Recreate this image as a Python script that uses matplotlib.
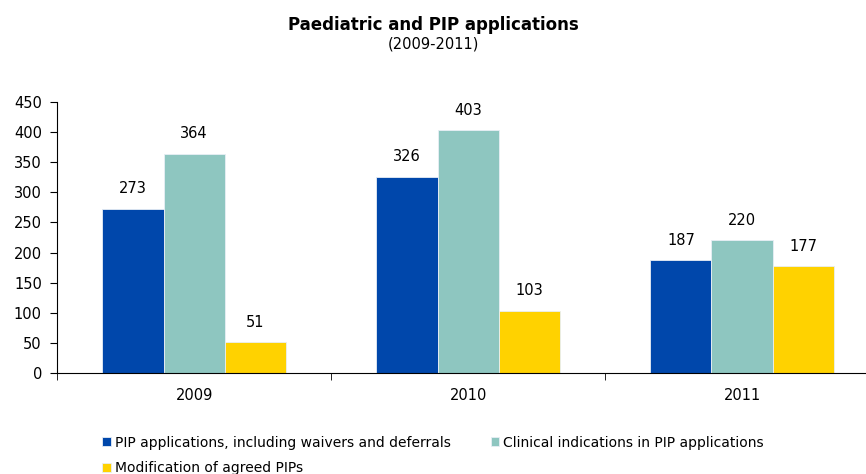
import matplotlib.pyplot as plt
import numpy as np

# Data
years = ['2009', '2010', '2011']
pip_applications = [273, 326, 187]
clinical_indications = [364, 403, 220]
modifications = [51, 103, 177]

series = [
    ('PIP applications, including waivers and deferrals', pip_applications, '#0047AB'),
    ('Clinical indications in PIP applications', clinical_indications, '#8EC6C0'),
    ('Modification of agreed PIPs', modifications, '#FFD200'),
]

plt.rcParams['font.family'] = 'DejaVu Sans'

fig = plt.figure(figsize=(8.66, 4.74), dpi=100)
# axes runs past the right edge of the figure, as in the original
ax = fig.add_axes([0.066, 0.213, 0.949, 0.572])

x = np.arange(len(years))
width = 0.223
handles = []
for i, (name, values, color) in enumerate(series):
    bars = ax.bar(x + (i - 1) * width, values, width, color=color,
                  edgecolor='#e8eef5', linewidth=0.6, label=name)
    handles.append(bars)
    for rect, v in zip(bars, values):
        ax.annotate(str(v), (rect.get_x() + rect.get_width() / 2, v),
                    xytext=(0, 9), textcoords='offset points',
                    ha='center', va='bottom', fontsize=10.5)

ax.set_xlim(-0.5, 2.5)
ax.set_ylim(0, 450)
ax.set_yticks(range(0, 451, 50))
ax.set_xticks(x)
ax.set_xticklabels(years)
ax.set_xticks([-0.5, 0.5, 1.5, 2.5], minor=True)
ax.tick_params(axis='x', which='major', length=0, pad=11, labelsize=10.5)
ax.tick_params(axis='x', which='minor', length=5, direction='out')
ax.tick_params(axis='y', length=5, pad=6, direction='out', labelsize=10.5)

for s in ['top', 'right']:
    ax.spines[s].set_visible(False)

fig.text(0.5, 0.937, 'Paediatric and PIP applications', ha='center',
         fontsize=12, fontweight='bold')
fig.text(0.5, 0.898, '(2009-2011)', ha='center', fontsize=10.5)

fig.legend([handles[0], handles[2], handles[1]],
           [series[0][0], series[2][0], series[1][0]],
           ncol=2, loc='upper left', bbox_to_anchor=(0.118, 0.081),
           frameon=False, fontsize=10, handlelength=0.6, handleheight=0.6,
           handletextpad=0.3, columnspacing=2.9, labelspacing=0.85,
           borderaxespad=0, borderpad=0)

fig.savefig('out.png', dpi=100)
